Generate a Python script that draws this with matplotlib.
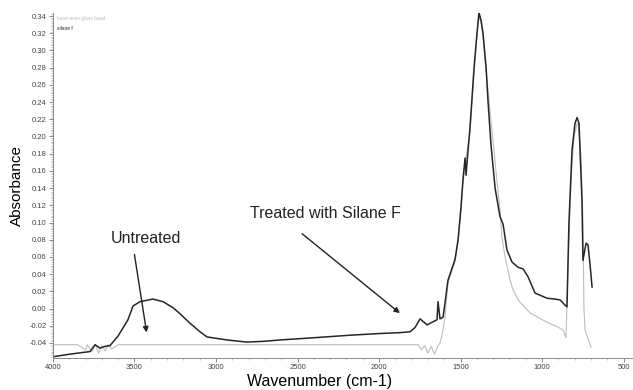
import numpy as np
import matplotlib
matplotlib.use('Agg')
import matplotlib.pyplot as plt
from matplotlib.ticker import MultipleLocator, FormatStrFormatter

plt.rcParams['font.family'] = ['Liberation Sans', 'DejaVu Sans']

# treated with silane F (dark trace)
treated_wn = [4000, 3896, 3773, 3742, 3712, 3681, 3650, 3601, 3540, 3509, 3466,
              3387, 3325, 3264, 3221, 3160, 3098, 3055, 2933, 2810, 2700, 2607,
              2405, 2178, 1994, 1871, 1810, 1779, 1748, 1705, 1675, 1644, 1638,
              1626, 1607, 1577, 1534, 1515, 1497, 1485, 1472, 1466, 1460, 1442,
              1417, 1399, 1387, 1374, 1362, 1343, 1331, 1313, 1288, 1258, 1239,
              1215, 1184, 1147, 1116, 1086, 1043, 969, 920, 889, 859, 847, 835,
              816, 798, 785, 773, 767, 755, 749, 730, 718, 705, 693]
treated_abs = [-0.056, -0.053, -0.050, -0.042, -0.046, -0.044, -0.043, -0.032, -0.013, 0.003, 0.008,
               0.011, 0.008, 0.001, -0.006, -0.017, -0.027, -0.033, -0.0365, -0.039, -0.038, -0.0365,
               -0.034, -0.031, -0.029, -0.028, -0.027, -0.022, -0.012, -0.019, -0.016, -0.013, 0.008,
               -0.012, -0.010, 0.033, 0.057, 0.080, 0.118, 0.150, 0.175, 0.155, 0.170, 0.210,
               0.280, 0.320, 0.344, 0.335, 0.320, 0.280, 0.240, 0.190, 0.140, 0.107, 0.098,
               0.068, 0.054, 0.048, 0.046, 0.037, 0.018, 0.012, 0.011, 0.010, 0.004, 0.002, 0.100,
               0.184, 0.215, 0.222, 0.215, 0.184, 0.126, 0.056, 0.076, 0.074, 0.050, 0.025]

# untreated (light trace)
untreated_wn = [4000, 3850, 3800, 3790, 3760, 3740, 3720, 3700, 3680, 3660, 3640,
                3600, 3000, 2500, 2000, 1760, 1740, 1720, 1700, 1680, 1660, 1640,
                1626, 1613, 1595, 1577, 1534, 1515, 1497, 1485, 1472, 1442, 1417,
                1399, 1387, 1374, 1362, 1343, 1319, 1288, 1258, 1246, 1227, 1196,
                1178, 1147, 1074, 969, 908, 871, 853, 840, 822, 804, 785, 779, 761,
                749, 743, 736, 718, 699]
untreated_abs = [-0.042, -0.042, -0.048, -0.042, -0.050, -0.042, -0.052, -0.043, -0.049, -0.042, -0.047,
                 -0.042, -0.042, -0.042, -0.042, -0.042, -0.048, -0.043, -0.052, -0.044, -0.053, -0.044,
                 -0.040, -0.030, -0.010, 0.030, 0.055, 0.078, 0.115, 0.145, 0.168, 0.205, 0.275,
                 0.318, 0.340, 0.332, 0.315, 0.275, 0.230, 0.170, 0.115, 0.083, 0.060, 0.033,
                 0.022, 0.010, -0.005, -0.016, -0.021, -0.025, -0.034, 0.050, 0.150, 0.200, 0.215, 0.215, 0.180,
                 0.100, 0.000, -0.025, -0.035, -0.045]

fig = plt.figure(figsize=(6.33, 3.90), dpi=100)
ax = fig.add_axes([0.0837, 0.082, 0.9163, 0.885])

ax.plot(untreated_wn, untreated_abs, color='#bdbdbd', lw=0.8)
ax.plot(treated_wn, treated_abs, color='#262626', lw=1.1)

ax.set_xlim(4000, 442)
ax.set_ylim(-0.0575, 0.3437)

ax.xaxis.set_major_locator(MultipleLocator(500))
ax.xaxis.set_minor_locator(MultipleLocator(100))
ax.yaxis.set_major_locator(MultipleLocator(0.02))
ax.yaxis.set_minor_locator(MultipleLocator(0.002))
ax.yaxis.set_major_formatter(FormatStrFormatter('%.2f'))
ax.tick_params(which='major', direction='out', length=3, width=0.6, colors='#777777',
               labelsize=5.5, labelcolor='#444444', pad=1.5)
ax.tick_params(which='minor', direction='out', length=1.5, width=0.4, colors='#999999')

for side in ['top', 'right']:
    ax.spines[side].set_visible(False)
for side in ['left', 'bottom']:
    ax.spines[side].set_color('#888888')
    ax.spines[side].set_linewidth(0.7)

ax.set_xlabel('Wavenumber (cm-1)', fontsize=11.5, labelpad=3)
ax.xaxis.set_label_coords(0.46, -0.045)
ax.set_ylabel('Absorbance', fontsize=11, labelpad=4)

# small legend text at top left
ax.text(0.007, 0.985, 'base resin glass bead', transform=ax.transAxes, fontsize=3.5,
        color='#bbbbbb', va='center')
ax.text(0.007, 0.955, 'silane f', transform=ax.transAxes, fontsize=3.5,
        color='#222222', va='center')

# annotations
ax.text(3429, 0.082, 'Untreated', fontsize=11.5, ha='center', va='center', color='#222222')
ax.annotate('', xy=(3423, -0.031), xytext=(3503, 0.066),
            arrowprops=dict(arrowstyle='-|>', color='#222222', lw=1.0, mutation_scale=8))
ax.text(2331, 0.111, 'Treated with Silane F', fontsize=11.5, ha='center', va='center', color='#222222')
ax.annotate('', xy=(1859, -0.0074), xytext=(2485, 0.089),
            arrowprops=dict(arrowstyle='-|>', color='#222222', lw=1.0, mutation_scale=8))

fig.savefig('out.png', dpi=100)
